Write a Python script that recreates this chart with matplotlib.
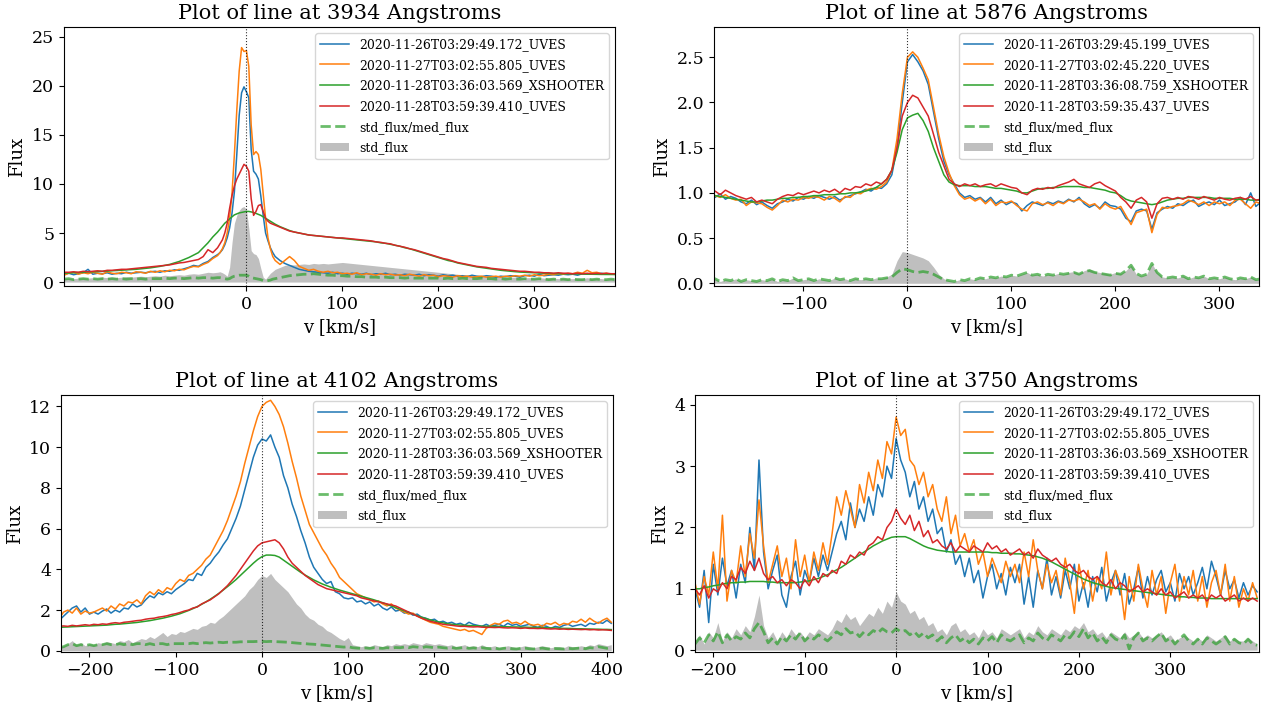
import numpy as np
import matplotlib
matplotlib.use("Agg")
import matplotlib.pyplot as plt

plt.rcParams['font.family'] = 'DejaVu Serif'

# ---------------- common labels ----------------
labels_a = ['2020-11-26T03:29:49.172_UVES', '2020-11-27T03:02:55.805_UVES',
            '2020-11-28T03:36:03.569_XSHOOTER', '2020-11-28T03:59:39.410_UVES']
labels_b = ['2020-11-26T03:29:45.199_UVES', '2020-11-27T03:02:45.220_UVES',
            '2020-11-28T03:36:08.759_XSHOOTER', '2020-11-28T03:59:35.437_UVES']

# ---------------- 3934 A ----------------
v_3934 = np.r_[np.arange(-190, -30, 5), np.arange(-30, 30, 2.5), np.arange(30, 390, 5)]
blue_3934 = [0.8, 0.9, 0.75, 0.85, 0.95, 1.3, 0.8, 0.9, 0.85, 0.95,
             0.8, 0.9, 0.85, 1.0, 0.9, 0.95, 1.0, 0.95, 1.05, 1.1,
             1.0, 1.15, 1.1, 1.25, 1.2, 1.35, 1.5, 1.7, 1.6, 1.9,
             2.1, 2.5,
             2.8, 3.0, 3.3, 3.8, 4.5, 5.5, 7.0, 9.2, 13.0, 17.0, 19.3, 19.9, 19.4, 18.8, 13.5, 11.3,
             11.0, 10.5, 8.8, 6.8, 5.0, 4.2, 3.5, 3.0,
             2.6, 2.2, 1.9, 1.7, 1.5, 1.3, 1.2, 1.1, 1.05, 1.0,
             0.95, 0.9, 1.0, 0.85, 0.9, 0.8, 0.9, 0.85, 0.8, 0.9,
             0.75, 0.85, 0.8, 0.9, 0.75, 0.8, 0.7, 0.8, 0.75, 0.7,
             0.8, 0.65, 0.75, 0.7, 0.6, 0.75, 0.65, 0.7, 0.6, 0.65,
             0.55, 0.7, 0.6, 0.55, 0.65, 0.6, 0.5, 0.6, 0.55, 0.65,
             0.6, 0.5, 0.65, 0.7, 0.6, 0.8, 0.65, 0.7, 0.75, 0.7,
             0.8, 0.75, 0.8, 0.7, 0.85, 0.8, 0.9, 0.85, 0.9, 0.8,
             0.85, 0.8]
orange_3934 = [0.7, 0.9, 1.0, 0.8, 0.95, 0.85, 1.0, 0.9, 0.8, 1.05,
               0.9, 0.85, 1.0, 0.95, 0.85, 1.05, 1.0, 0.9, 1.1, 1.0,
               1.15, 1.05, 1.2, 1.15, 1.3, 1.25, 1.45, 1.6, 1.55, 1.8,
               2.0, 2.4,
               2.7, 3.0, 3.4, 4.0, 5.0, 6.5, 9.0, 13.0, 17.5, 21.5, 23.9, 23.5, 23.6, 22.0, 16.0, 13.0,
               13.3, 13.0, 11.5, 9.0, 6.5, 4.5, 3.4, 2.6,
               2.2, 1.8, 2.2, 2.6, 2.2, 1.6, 1.4, 1.2, 1.3, 1.1,
               1.0, 1.1, 0.95, 1.0, 0.85, 0.9, 0.8, 0.95, 0.75, 0.85,
               0.8, 0.7, 0.85, 0.75, 0.8, 0.7, 0.75, 0.65, 0.8, 0.7,
               0.6, 0.75, 0.65, 0.7, 0.55, 0.65, 0.6, 0.5, 0.65, 0.55,
               0.6, 0.5, 0.55, 0.6, 0.5, 0.55, 0.6, 0.5, 0.6, 0.55,
               0.65, 0.6, 0.7, 0.6, 0.75, 0.65, 0.7, 0.8, 0.75, 0.85,
               0.8, 0.9, 0.85, 1.0, 0.9, 1.2, 0.95, 1.0, 0.85, 0.9,
               0.8, 0.85]
green_3934 = [0.9, 0.92, 0.95, 0.97, 1.0, 1.02, 1.05, 1.07, 1.1, 1.12,
              1.15, 1.17, 1.2, 1.23, 1.26, 1.3, 1.35, 1.4, 1.45, 1.52,
              1.6, 1.7, 1.8, 1.95, 2.1, 2.3, 2.5, 2.75, 3.0, 3.5,
              4.0, 4.6,
              5.1, 5.4, 5.7, 6.0, 6.2, 6.45, 6.65, 6.85, 6.95, 7.05, 7.1, 7.15, 7.2, 7.2, 7.15, 7.1,
              7.0, 6.9, 6.8, 6.65, 6.5, 6.35, 6.2, 6.05,
              5.9, 5.65, 5.45, 5.25, 5.1, 5.0, 4.9, 4.8, 4.75, 4.7,
              4.65, 4.6, 4.55, 4.5, 4.45, 4.4, 4.35, 4.3, 4.25, 4.2,
              4.15, 4.1, 4.0, 3.95, 3.85, 3.75, 3.65, 3.5, 3.4, 3.25,
              3.1, 2.95, 2.8, 2.65, 2.5, 2.35, 2.2, 2.1, 1.95, 1.85,
              1.75, 1.65, 1.55, 1.48, 1.4, 1.33, 1.27, 1.2, 1.15, 1.1,
              1.06, 1.02, 1.0, 0.97, 0.95, 0.92, 0.9, 0.88, 0.87, 0.86,
              0.85, 0.84, 0.83, 0.82, 0.81, 0.8, 0.8, 0.79, 0.78, 0.78,
              0.77, 0.77]
red_3934 = [1.0, 1.0, 1.05, 1.0, 1.1, 1.05, 1.1, 1.15, 1.1, 1.2,
            1.2, 1.25, 1.3, 1.3, 1.35, 1.4, 1.45, 1.5, 1.55, 1.6,
            1.65, 1.7, 1.75, 1.85, 1.95, 2.0, 2.1, 2.2, 2.3, 2.6,
            3.3, 3.0,
            3.5, 3.9, 4.3, 5.0, 6.0, 7.5, 8.8, 9.8, 10.5, 11.0, 11.5, 12.0, 11.8, 11.3, 8.5, 6.8,
            7.2, 7.8, 7.9, 7.2, 6.5, 6.2, 6.0, 5.9,
            5.8, 5.6, 5.4, 5.2, 5.1, 5.0, 4.9, 4.8, 4.75, 4.7,
            4.65, 4.6, 4.55, 4.5, 4.5, 4.45, 4.4, 4.35, 4.3, 4.25,
            4.2, 4.1, 4.05, 3.95, 3.9, 3.75, 3.65, 3.55, 3.4, 3.3,
            3.15, 3.0, 2.85, 2.7, 2.55, 2.4, 2.3, 2.15, 2.0, 1.9,
            1.8, 1.7, 1.6, 1.55, 1.5, 1.4, 1.35, 1.3, 1.25, 1.2,
            1.15, 1.1, 1.1, 1.05, 1.0, 1.0, 0.95, 0.95, 0.9, 0.95,
            0.9, 0.9, 0.85, 0.9, 0.85, 0.9, 0.85, 0.9, 0.85, 0.9,
            0.85, 0.85]
std_3934 = [0.35, 0.4, 0.35, 0.4, 0.45, 0.4, 0.45, 0.4, 0.5, 0.45,
            0.5, 0.45, 0.5, 0.55, 0.5, 0.55, 0.6, 0.55, 0.6, 0.65,
            0.6, 0.7, 0.65, 0.7, 0.75, 0.7, 0.8, 0.85, 0.8, 0.9,
            1.0, 0.95,
            1.0, 1.05, 0.95, 0.8, 0.6, 1.5, 4.0, 6.0, 6.8, 7.3, 7.6, 7.7, 7.4, 5.5, 3.2, 2.9,
            2.8, 2.4, 1.4, 0.5, 0.3, 0.6, 0.9, 1.1,
            1.3, 1.5, 1.7, 1.8, 1.75, 1.8, 1.85, 1.8, 1.9, 1.85,
            1.9, 1.85, 1.9, 1.95, 2.0, 1.95, 1.9, 1.85, 1.8, 1.75,
            1.7, 1.65, 1.6, 1.55, 1.5, 1.45, 1.4, 1.35, 1.3, 1.25,
            1.2, 1.15, 1.1, 1.05, 1.0, 0.95, 0.9, 0.85, 0.8, 0.75,
            0.75, 0.7, 0.65, 0.65, 0.6, 0.6, 0.55, 0.55, 0.5, 0.5,
            0.5, 0.45, 0.45, 0.45, 0.4, 0.45, 0.4, 0.4, 0.4, 0.35,
            0.4, 0.35, 0.35, 0.4, 0.35, 0.45, 0.35, 0.4, 0.35, 0.3,
            0.35, 0.3]
ratio_3934 = [0.3, 0.35, 0.25, 0.3, 0.35, 0.3, 0.35, 0.3, 0.35, 0.3,
              0.35, 0.3, 0.35, 0.3, 0.35, 0.3, 0.35, 0.3, 0.35, 0.35,
              0.35, 0.4, 0.35, 0.4, 0.4, 0.35, 0.4, 0.45, 0.4, 0.45,
              0.45, 0.4,
              0.45, 0.45, 0.4, 0.35, 0.3, 0.35, 0.5, 0.6, 0.65, 0.7, 0.7, 0.7, 0.7, 0.6, 0.45, 0.4,
              0.35, 0.3, 0.25, 0.15, 0.1, 0.15, 0.2, 0.3,
              0.35, 0.45, 0.55, 0.65, 0.7, 0.75, 0.8, 0.8, 0.85, 0.8,
              0.75, 0.7, 0.7, 0.65, 0.65, 0.6, 0.6, 0.55, 0.55, 0.5,
              0.5, 0.5, 0.45, 0.5, 0.45, 0.45, 0.45, 0.4, 0.45, 0.4,
              0.4, 0.4, 0.4, 0.4, 0.4, 0.35, 0.4, 0.35, 0.35, 0.4,
              0.35, 0.35, 0.35, 0.4, 0.35, 0.35, 0.3, 0.35, 0.3, 0.35,
              0.3, 0.3, 0.35, 0.3, 0.3, 0.35, 0.3, 0.25, 0.3, 0.25,
              0.3, 0.25, 0.3, 0.25, 0.25, 0.3, 0.25, 0.3, 0.25, 0.25,
              0.3, 0.25]

# ---------------- 5876 A ----------------
v_5876 = np.arange(-190, 345, 5)
blue_5876 = [0.97, 0.95, 0.99, 0.93, 0.96, 0.94, 0.9, 0.88, 0.92, 0.87,
             0.9, 0.86, 0.83, 0.88, 0.9, 0.93, 0.91, 0.95, 0.93, 0.96,
             0.94, 0.97, 0.95, 0.93, 0.96, 0.92, 0.95, 0.97, 0.99, 1.01,
             1.04, 1.02, 1.06, 1.05, 1.1, 1.2, 1.5, 2.0, 2.45, 2.53,
             2.45, 2.35, 2.2, 1.9, 1.6, 1.35, 1.2, 1.1, 1.0, 0.95,
             0.97, 0.93, 0.95, 0.9, 0.95, 0.88, 0.92, 0.87, 0.9, 0.88,
             0.8, 0.86, 0.9, 0.88, 0.86, 0.9, 0.88, 0.91, 0.89, 0.93,
             0.9, 0.95, 0.88, 0.84, 0.87, 0.83, 0.9, 0.86, 0.85, 0.82,
             0.72, 0.68, 0.8, 0.82, 0.8, 0.6, 0.78, 0.82, 0.85, 0.83,
             0.88, 0.86, 0.9, 0.92, 0.85, 0.88, 0.9, 0.87, 0.92, 0.86,
             0.88, 0.9, 0.95, 0.87, 1.0, 0.85, 0.9]
orange_5876 = [0.93, 0.97, 0.95, 0.98, 0.94, 0.92, 0.93, 0.86, 0.9, 0.89,
               0.88, 0.84, 0.81, 0.86, 0.92, 0.9, 0.93, 0.92, 0.95, 0.94,
               0.96, 0.95, 0.92, 0.96, 0.94, 0.9, 0.96, 0.95, 1.0, 0.99,
               1.03, 1.05, 1.04, 1.07, 1.12, 1.25, 1.6, 2.1, 2.5, 2.56,
               2.5, 2.38, 2.25, 1.95, 1.65, 1.4, 1.22, 1.08, 0.98, 0.93,
               0.95, 0.91, 0.94, 0.88, 0.93, 0.86, 0.9, 0.89, 0.91, 0.86,
               0.82, 0.8, 0.88, 0.9, 0.87, 0.89, 0.86, 0.9, 0.88, 0.92,
               0.91, 0.93, 0.9, 0.86, 0.88, 0.82, 0.88, 0.84, 0.82, 0.85,
               0.75, 0.65, 0.78, 0.8, 0.82, 0.56, 0.76, 0.84, 0.83, 0.85,
               0.86, 0.88, 0.92, 0.9, 0.87, 0.9, 0.86, 0.9, 0.88, 0.9,
               0.86, 0.92, 0.93, 0.88, 0.83, 0.9, 0.88]
green_5876 = [0.97, 0.97, 0.96, 0.95, 0.94, 0.93, 0.92, 0.91, 0.9, 0.9,
              0.91, 0.92, 0.92, 0.93, 0.94, 0.94, 0.95, 0.95, 0.96, 0.96,
              0.97, 0.97, 0.98, 0.98, 0.98, 0.99, 0.99, 1.0, 1.0, 1.01,
              1.02, 1.04, 1.06, 1.1, 1.15, 1.25, 1.45, 1.7, 1.83, 1.86,
              1.88, 1.8, 1.68, 1.5, 1.35, 1.2, 1.12, 1.09, 1.08, 1.08,
              1.08, 1.07, 1.07, 1.07, 1.06, 1.05, 1.05, 1.04, 1.03, 1.02,
              1.0, 1.0, 1.02, 1.04, 1.05, 1.05, 1.06, 1.06, 1.07, 1.07,
              1.07, 1.07, 1.06, 1.06, 1.05, 1.04, 1.03, 1.01, 1.0, 0.97,
              0.93, 0.91, 0.9, 0.89, 0.88, 0.87, 0.88, 0.9, 0.92, 0.93,
              0.94, 0.94, 0.95, 0.95, 0.95, 0.95, 0.95, 0.94, 0.94, 0.94,
              0.94, 0.93, 0.93, 0.93, 0.92, 0.92, 0.92]
red_5876 = [1.0, 1.02, 0.98, 1.03, 1.0, 0.97, 0.95, 0.93, 0.95, 0.9,
            0.92, 0.9, 0.88, 0.93, 0.96, 0.98, 0.97, 1.0, 0.98, 1.0,
            1.02, 1.0, 1.03, 1.01, 1.04, 1.0, 1.05, 1.03, 1.07, 1.06,
            1.1, 1.08, 1.12, 1.1, 1.15, 1.25, 1.5, 1.85, 2.0, 2.08,
            2.05, 1.95, 1.85, 1.65, 1.45, 1.3, 1.15, 1.1, 1.07, 1.1,
            1.08, 1.1, 1.07, 1.09, 1.1, 1.07, 1.1, 1.08, 1.06, 1.05,
            1.0, 0.98, 1.03, 1.05, 1.04, 1.06, 1.05, 1.08, 1.1, 1.12,
            1.15, 1.1, 1.08, 1.06, 1.1, 1.12, 1.08, 1.05, 1.02, 0.95,
            0.9, 0.83, 0.92, 0.95, 0.9, 0.72, 0.88, 0.94, 0.95, 0.93,
            0.95, 0.93, 0.96, 0.95, 0.93, 0.96, 0.94, 0.92, 0.95, 0.93,
            0.92, 0.94, 0.95, 0.93, 0.96, 0.92, 0.93]
std_5876 = [0.03, 0.05, 0.02, 0.04, 0.03, 0.05, 0.02, 0.04, 0.03, 0.02,
            0.04, 0.03, 0.05, 0.02, 0.04, 0.03, 0.06, 0.03, 0.04, 0.05,
            0.03, 0.05, 0.04, 0.03, 0.06, 0.04, 0.05, 0.03, 0.05, 0.04,
            0.05, 0.04, 0.06, 0.05, 0.07, 0.1, 0.25, 0.35, 0.34, 0.32,
            0.3, 0.28, 0.25, 0.18, 0.1, 0.05, 0.03, 0.02, 0.04, 0.03,
            0.05, 0.04, 0.06, 0.05, 0.07, 0.06, 0.08, 0.07, 0.09, 0.08,
            0.1, 0.12, 0.09, 0.1, 0.08, 0.1, 0.09, 0.11, 0.1, 0.12,
            0.13, 0.11, 0.14, 0.16, 0.13, 0.12, 0.11, 0.1, 0.12, 0.11,
            0.14, 0.2, 0.1, 0.08, 0.1, 0.22, 0.12, 0.07, 0.06, 0.07,
            0.06, 0.08, 0.05, 0.07, 0.06, 0.08, 0.05, 0.06, 0.05, 0.07,
            0.05, 0.04, 0.06, 0.05, 0.07, 0.04, 0.05]
ratio_5876 = [0.03, 0.05, 0.02, 0.04, 0.03, 0.05, 0.02, 0.04, 0.03, 0.02,
              0.04, 0.03, 0.05, 0.02, 0.04, 0.03, 0.06, 0.03, 0.04, 0.05,
              0.03, 0.05, 0.04, 0.03, 0.06, 0.04, 0.05, 0.03, 0.05, 0.04,
              0.05, 0.04, 0.05, 0.05, 0.06, 0.07, 0.12, 0.16, 0.15, 0.13,
              0.12, 0.13, 0.12, 0.1, 0.07, 0.04, 0.03, 0.02, 0.04, 0.03,
              0.05, 0.04, 0.06, 0.05, 0.07, 0.06, 0.08, 0.07, 0.09, 0.08,
              0.1, 0.12, 0.09, 0.1, 0.08, 0.1, 0.09, 0.11, 0.1, 0.11,
              0.12, 0.1, 0.13, 0.14, 0.12, 0.11, 0.1, 0.09, 0.11, 0.1,
              0.14, 0.2, 0.11, 0.08, 0.1, 0.22, 0.12, 0.07, 0.06, 0.07,
              0.06, 0.08, 0.05, 0.07, 0.06, 0.08, 0.05, 0.06, 0.05, 0.07,
              0.05, 0.04, 0.06, 0.05, 0.07, 0.04, 0.05]

# ---------------- 4102 A ----------------
v_4102 = np.arange(-235, 410, 5)
blue_4102 = [1.5, 1.7, 1.9, 2.1, 2.2, 1.9, 2.1, 1.8, 1.9, 1.8,
             1.95, 2.05, 1.85, 2.0, 1.9, 2.1, 2.05, 2.3, 2.15, 2.25,
             2.5, 2.7, 2.6, 2.85, 2.75, 2.9, 2.8, 3.0, 3.15, 3.3,
             3.5, 3.45, 3.8, 3.7, 4.1, 4.3, 4.6, 4.85, 5.2, 5.5,
             6.0, 6.5, 7.1, 7.9, 8.7, 9.5, 10.1, 10.4, 10.3, 10.6,
             10.0, 9.5, 8.6, 8.0, 7.2, 6.6, 5.9, 5.3, 4.6, 4.1,
             3.8, 3.5, 3.3, 3.4, 2.9, 2.8, 2.6, 2.55, 2.6, 2.4,
             2.45, 2.3, 2.4, 2.2, 2.3, 2.1, 2.0, 2.15, 1.95, 2.0,
             1.85, 1.9, 1.75, 1.8, 1.65, 1.6, 1.5, 1.55, 1.4, 1.45,
             1.35, 1.4, 1.3, 1.35, 1.25, 1.4, 1.3, 1.25, 1.2, 1.3,
             1.2, 1.25, 1.3, 1.2, 1.35, 1.25, 1.3, 1.2, 1.25, 1.3,
             1.2, 1.15, 1.25, 1.2, 1.1, 1.2, 1.15, 1.25, 1.3, 1.2,
             1.25, 1.3, 1.2, 1.35, 1.3, 1.4, 1.35, 1.5, 1.35]
orange_4102 = [1.6, 1.9, 2.0, 1.85, 2.1, 1.8, 1.95, 1.85, 1.9, 2.0,
               2.1, 1.95, 2.2, 2.05, 2.3, 2.2, 2.4, 2.35, 2.5, 2.3,
               2.7, 2.9, 2.75, 3.0, 2.85, 3.1, 3.0, 3.3, 3.5, 3.4,
               3.7, 3.8, 4.0, 4.2, 4.5, 4.7, 5.1, 5.5, 5.9, 6.4,
               7.0, 7.6, 8.3, 9.2, 10.0, 10.8, 11.5, 12.0, 12.2, 12.3,
               12.0, 11.6, 11.0, 10.2, 9.3, 8.5, 7.6, 6.9, 6.2, 5.8,
               5.4, 5.0, 4.7, 4.3, 4.0, 3.6, 3.4, 3.2, 3.0, 2.8,
               2.7, 2.6, 2.5, 2.4, 2.45, 2.3, 2.2, 2.3, 2.1, 2.0,
               1.9, 1.8, 1.85, 1.7, 1.6, 1.5, 1.4, 1.35, 1.3, 1.2,
               1.15, 1.1, 1.05, 1.0, 1.05, 0.95, 1.0, 0.9, 0.8, 1.1,
               1.25, 1.35, 1.3, 1.45, 1.5, 1.35, 1.4, 1.3, 1.45, 1.3,
               1.25, 1.3, 1.2, 1.35, 1.3, 1.4, 1.25, 1.35, 1.3, 1.45,
               1.4, 1.55, 1.4, 1.6, 1.45, 1.35, 1.5, 1.6, 1.4]
green_4102 = [1.15, 1.16, 1.17, 1.18, 1.19, 1.2, 1.21, 1.22, 1.23, 1.24,
              1.25, 1.26, 1.28, 1.3, 1.31, 1.33, 1.35, 1.37, 1.39, 1.42,
              1.45, 1.48, 1.52, 1.56, 1.6, 1.65, 1.7, 1.76, 1.82, 1.9,
              1.98, 2.07, 2.17, 2.28, 2.4, 2.53, 2.67, 2.82, 2.98, 3.15,
              3.32, 3.5, 3.7, 3.9, 4.1, 4.3, 4.48, 4.62, 4.7, 4.7,
              4.68, 4.6, 4.45, 4.3, 4.15, 4.0, 3.85, 3.72, 3.6, 3.48,
              3.38, 3.28, 3.2, 3.12, 3.05, 2.98, 2.92, 2.86, 2.8, 2.74,
              2.68, 2.62, 2.56, 2.5, 2.43, 2.36, 2.28, 2.2, 2.12, 2.04,
              1.96, 1.88, 1.8, 1.72, 1.65, 1.58, 1.52, 1.46, 1.41, 1.37,
              1.33, 1.3, 1.28, 1.26, 1.25, 1.24, 1.23, 1.22, 1.21, 1.2,
              1.2, 1.19, 1.19, 1.18, 1.18, 1.17, 1.17, 1.16, 1.16, 1.15,
              1.15, 1.14, 1.14, 1.13, 1.12, 1.12, 1.11, 1.1, 1.1, 1.09,
              1.08, 1.08, 1.07, 1.07, 1.06, 1.06, 1.05, 1.05, 1.04]
red_4102 = [1.2, 1.22, 1.2, 1.25, 1.22, 1.25, 1.28, 1.25, 1.3, 1.28,
            1.32, 1.3, 1.35, 1.38, 1.35, 1.4, 1.42, 1.45, 1.48, 1.5,
            1.55, 1.58, 1.6, 1.65, 1.68, 1.72, 1.78, 1.82, 1.88, 1.95,
            2.0, 2.1, 2.15, 2.3, 2.4, 2.5, 2.65, 2.8, 3.0, 3.2,
            3.45, 3.7, 4.0, 4.3, 4.6, 4.9, 5.15, 5.3, 5.35, 5.4,
            5.45, 5.3, 5.0, 4.6, 4.3, 4.1, 3.9, 3.7, 3.55, 3.4,
            3.25, 3.15, 3.05, 3.0, 2.95, 2.9, 2.85, 2.8, 2.75, 2.7,
            2.6, 2.55, 2.5, 2.45, 2.4, 2.35, 2.3, 2.25, 2.2, 2.1,
            2.0, 1.9, 1.8, 1.7, 1.6, 1.52, 1.45, 1.4, 1.35, 1.3,
            1.27, 1.25, 1.22, 1.2, 1.2, 1.18, 1.17, 1.18, 1.16, 1.15,
            1.15, 1.14, 1.15, 1.13, 1.12, 1.13, 1.12, 1.1, 1.12, 1.1,
            1.1, 1.09, 1.1, 1.08, 1.07, 1.08, 1.06, 1.07, 1.05, 1.06,
            1.05, 1.04, 1.05, 1.03, 1.04, 1.02, 1.03, 1.02, 1.0]
std_4102 = [0.15, 0.25, 0.35, 0.5, 0.3, 0.4, 0.25, 0.35, 0.3, 0.4,
            0.35, 0.45, 0.4, 0.35, 0.5, 0.45, 0.55, 0.4, 0.5, 0.6,
            0.55, 0.7, 0.6, 0.75, 0.9, 0.7, 0.85, 0.8, 0.95, 0.9,
            1.0, 1.1, 1.05, 1.2, 1.25, 1.4, 1.35, 1.55, 1.7, 1.9,
            2.1, 2.3, 2.5, 2.7, 3.0, 3.2, 3.5, 3.7, 3.6, 3.8,
            3.5, 3.3, 3.1, 2.9, 2.6, 2.3, 2.1, 1.8, 1.6, 1.5,
            1.3, 1.2, 1.0, 0.9, 0.75, 0.6, 0.5, 0.65, 0.3, 0.25,
            0.2, 0.25, 0.2, 0.3, 0.25, 0.2, 0.3, 0.25, 0.35, 0.3,
            0.35, 0.3, 0.4, 0.35, 0.3, 0.4, 0.35, 0.3, 0.35, 0.3,
            0.25, 0.3, 0.2, 0.25, 0.3, 0.2, 0.25, 0.2, 0.3, 0.2,
            0.2, 0.25, 0.15, 0.2, 0.25, 0.2, 0.15, 0.2, 0.25, 0.2,
            0.15, 0.2, 0.25, 0.2, 0.15, 0.2, 0.2, 0.15, 0.25, 0.2,
            0.2, 0.25, 0.2, 0.3, 0.25, 0.35, 0.3, 0.25, 0.3]
ratio_4102 = [0.15, 0.2, 0.3, 0.35, 0.25, 0.3, 0.25, 0.3, 0.25, 0.3,
              0.3, 0.35, 0.3, 0.3, 0.35, 0.3, 0.35, 0.3, 0.35, 0.35,
              0.3, 0.35, 0.3, 0.35, 0.35, 0.3, 0.35, 0.35, 0.35, 0.35,
              0.35, 0.38, 0.35, 0.38, 0.4, 0.38, 0.4, 0.42, 0.4, 0.42,
              0.42, 0.42, 0.44, 0.44, 0.45, 0.45, 0.46, 0.46, 0.45, 0.46,
              0.45, 0.44, 0.43, 0.42, 0.4, 0.38, 0.36, 0.35, 0.33, 0.32,
              0.3, 0.28, 0.26, 0.24, 0.22, 0.2, 0.18, 0.2, 0.15, 0.13,
              0.12, 0.14, 0.12, 0.15, 0.13, 0.12, 0.15, 0.13, 0.16, 0.15,
              0.18, 0.15, 0.2, 0.18, 0.15, 0.2, 0.18, 0.15, 0.18, 0.15,
              0.13, 0.16, 0.12, 0.14, 0.16, 0.12, 0.14, 0.12, 0.15, 0.12,
              0.1, 0.13, 0.09, 0.12, 0.14, 0.1, 0.09, 0.12, 0.13, 0.1,
              0.09, 0.11, 0.13, 0.1, 0.08, 0.11, 0.1, 0.09, 0.12, 0.1,
              0.12, 0.14, 0.1, 0.15, 0.13, 0.2, 0.16, 0.12, 0.15]

# ---------------- 3750 A ----------------
v_3750 = np.arange(-220, 400, 5)
blue_3750 = [1.0, 0.7, 1.3, 0.45, 1.4, 0.9, 1.5, 1.05, 1.3, 0.85,
             1.4, 1.1, 2.0, 1.3, 3.1, 1.6, 1.0, 1.3, 1.55, 0.9,
             0.7, 1.2, 1.45, 0.9, 1.3, 1.1, 1.5, 1.2, 1.55, 1.3,
             1.6, 1.9, 2.1, 1.8, 2.4, 2.0, 2.3, 2.1, 2.5, 2.2,
             2.7, 2.5, 3.0, 2.8, 3.45, 3.1, 2.9, 2.5, 2.75, 2.3,
             2.5, 2.1, 2.3, 1.9, 2.0, 1.6, 1.8, 1.4, 1.55, 1.2,
             1.5, 1.1, 1.3, 0.85, 1.2, 1.4, 1.0, 1.25, 0.9, 1.35,
             1.1, 1.4, 0.75, 1.2, 0.7, 1.3, 1.0, 1.5, 0.9, 1.2,
             0.85, 1.3, 1.0, 1.4, 0.8, 1.1, 0.7, 1.2, 0.95, 1.35,
             0.8, 1.1, 1.3, 0.9, 1.25, 0.75, 1.0, 1.35, 0.85, 1.2,
             0.9, 1.15, 1.3, 0.95, 1.1, 0.8, 1.25, 1.0, 1.2, 0.9,
             1.1, 1.35, 1.0, 1.45, 1.2, 0.9, 1.3, 1.0, 1.15, 0.85,
             1.1, 0.9, 1.05, 0.95]
orange_3750 = [1.1, 0.75, 1.2, 0.9, 1.6, 1.0, 2.2, 0.8, 1.3, 1.1,
               1.7, 1.2, 1.9, 1.5, 2.45, 1.7, 1.1, 1.4, 1.7, 1.2,
               1.5, 1.0, 1.8, 1.2, 1.55, 1.1, 1.6, 1.3, 1.75, 1.4,
               1.9, 2.5, 2.2, 2.6, 2.3, 2.0, 2.7, 2.4, 2.9, 2.6,
               3.1, 2.8, 3.4, 3.2, 3.8, 3.5, 3.6, 3.1, 3.0, 2.7,
               2.9, 2.5, 2.7, 2.3, 2.1, 2.5, 1.9, 2.2, 1.7, 1.9,
               1.6, 1.8, 1.4, 1.6, 1.2, 1.5, 1.3, 1.1, 1.45, 1.2,
               1.4, 1.1, 1.6, 1.2, 1.8, 1.3, 1.0, 1.4, 1.1, 1.3,
               0.9, 1.5, 1.1, 0.6, 1.4, 1.0, 1.3, 0.8, 1.2, 1.0,
               1.6, 0.9, 1.3, 1.1, 0.5, 1.2, 0.8, 1.4, 1.0, 0.7,
               1.3, 0.9, 1.2, 0.6, 1.1, 1.4, 0.8, 1.2, 0.9, 1.3,
               0.8, 1.2, 0.7, 1.1, 1.3, 0.9, 1.4, 0.8, 1.2, 0.7,
               1.0, 0.8, 1.1, 0.85]
green_3750 = [1.0, 1.0, 1.02, 1.03, 1.05, 1.06, 1.08, 1.09, 1.1, 1.1,
              1.11, 1.11, 1.12, 1.12, 1.12, 1.12, 1.11, 1.11, 1.1, 1.1,
              1.1, 1.1, 1.1, 1.11, 1.12, 1.13, 1.15, 1.17, 1.2, 1.23,
              1.27, 1.31, 1.35, 1.4, 1.45, 1.5, 1.55, 1.6, 1.65, 1.7,
              1.74, 1.78, 1.81, 1.84, 1.85, 1.85, 1.85, 1.82, 1.78, 1.74,
              1.7, 1.67, 1.65, 1.63, 1.62, 1.61, 1.6, 1.6, 1.6, 1.6,
              1.6, 1.6, 1.6, 1.6, 1.6, 1.59, 1.59, 1.58, 1.58, 1.58,
              1.57, 1.57, 1.56, 1.55, 1.54, 1.52, 1.5, 1.47, 1.44, 1.4,
              1.36, 1.32, 1.28, 1.24, 1.2, 1.16, 1.13, 1.1, 1.08, 1.06,
              1.04, 1.02, 1.01, 1.0, 0.99, 0.98, 0.97, 0.96, 0.95, 0.94,
              0.93, 0.92, 0.91, 0.9, 0.89, 0.88, 0.87, 0.87, 0.86, 0.86,
              0.85, 0.85, 0.85, 0.84, 0.84, 0.84, 0.84, 0.84, 0.84, 0.84,
              0.84, 0.84, 0.84, 0.84]
red_3750 = [1.0, 0.9, 1.05, 0.85, 1.0, 0.95, 1.1, 1.0, 1.2, 1.15,
            1.35, 1.25, 1.45, 1.3, 1.5, 1.25, 1.15, 1.2, 1.1, 1.15,
            1.05, 1.15, 1.1, 1.0, 1.15, 1.05, 1.2, 1.1, 1.25, 1.2,
            1.3, 1.25, 1.45, 1.4, 1.55, 1.5, 1.6, 1.55, 1.7, 1.75,
            1.85, 1.8, 2.0, 2.1, 2.3, 2.15, 2.05, 2.2, 1.95, 2.1,
            1.85, 1.95, 1.75, 1.8, 1.7, 1.65, 1.75, 1.6, 1.7, 1.65,
            1.6, 1.7, 1.65, 1.6, 1.75, 1.65, 1.7, 1.6, 1.65, 1.55,
            1.6, 1.65, 1.55, 1.6, 1.5, 1.65, 1.55, 1.5, 1.45, 1.5,
            1.4, 1.35, 1.4, 1.3, 1.25, 1.3, 1.2, 1.15, 1.2, 1.1,
            1.05, 1.15, 1.0, 1.1, 1.05, 0.95, 1.0, 1.05, 0.95, 1.0,
            0.95, 0.9, 1.0, 0.9, 0.95, 0.85, 0.9, 0.95, 0.85, 0.9,
            0.85, 0.9, 0.8, 0.9, 0.85, 0.9, 0.8, 0.85, 0.9, 0.8,
            0.85, 0.8, 0.85, 0.8]
std_3750 = [0.15, 0.25, 0.1, 0.3, 0.2, 0.45, 0.15, 0.3, 0.2, 0.35,
            0.25, 0.4, 0.3, 0.55, 0.9, 0.4, 0.2, 0.3, 0.15, 0.3,
            0.2, 0.35, 0.25, 0.3, 0.2, 0.3, 0.25, 0.35, 0.3, 0.25,
            0.35, 0.5, 0.45, 0.6, 0.5, 0.55, 0.4, 0.5, 0.6, 0.55,
            0.7, 0.6, 0.8, 0.7, 0.95, 0.8, 0.75, 0.6, 0.65, 0.5,
            0.55, 0.4, 0.45, 0.3, 0.35, 0.25, 0.4, 0.45, 0.3, 0.35,
            0.25, 0.3, 0.2, 0.35, 0.25, 0.3, 0.2, 0.35, 0.3, 0.25,
            0.3, 0.35, 0.2, 0.3, 0.25, 0.4, 0.3, 0.25, 0.35, 0.3,
            0.25, 0.35, 0.3, 0.4, 0.35, 0.45, 0.3, 0.35, 0.25, 0.3,
            0.2, 0.3, 0.25, 0.2, 0.3, 0.2, 0.25, 0.3, 0.2, 0.25,
            0.2, 0.25, 0.3, 0.2, 0.25, 0.15, 0.2, 0.25, 0.2, 0.15,
            0.2, 0.15, 0.25, 0.2, 0.15, 0.2, 0.25, 0.15, 0.2, 0.15,
            0.15, 0.2, 0.15, 0.1]
ratio_3750 = [0.1, 0.2, 0.12, 0.25, 0.15, 0.3, 0.12, 0.25, 0.15, 0.22,
              0.18, 0.28, 0.2, 0.35, 0.45, 0.3, 0.12, 0.2, 0.1, 0.22,
              0.15, 0.25, 0.18, 0.28, 0.15, 0.22, 0.18, 0.25, 0.2, 0.15,
              0.22, 0.3, 0.25, 0.35, 0.28, 0.3, 0.22, 0.3, 0.25, 0.32,
              0.28, 0.35, 0.3, 0.28, 0.35, 0.3, 0.32, 0.25, 0.3, 0.22,
              0.28, 0.2, 0.25, 0.15, 0.22, 0.12, 0.2, 0.25, 0.15, 0.2,
              0.12, 0.18, 0.1, 0.2, 0.15, 0.22, 0.12, 0.25, 0.18, 0.15,
              0.2, 0.25, 0.12, 0.2, 0.15, 0.28, 0.2, 0.15, 0.25, 0.2,
              0.15, 0.25, 0.2, 0.3, 0.22, 0.35, 0.2, 0.28, 0.15, 0.22,
              0.12, 0.25, 0.18, 0.15, 0.25, 0.02, 0.2, 0.28, 0.15, 0.2,
              0.15, 0.22, 0.28, 0.15, 0.2, 0.1, 0.18, 0.25, 0.15, 0.1,
              0.18, 0.1, 0.2, 0.15, 0.1, 0.15, 0.22, 0.1, 0.18, 0.12,
              0.1, 0.18, 0.1, 0.08]

panels = [
    dict(line=3934, v=v_3934, series=[blue_3934, orange_3934, green_3934, red_3934],
         std=std_3934, ratio=ratio_3934, labels=labels_a, xlim=(-190, 384), ylim=(-0.4, 26.0),
         rect=(64, 27, 615, 286)),
    dict(line=5876, v=v_5876, series=[blue_5876, orange_5876, green_5876, red_5876],
         std=std_5876, ratio=ratio_5876, labels=labels_b, xlim=(-186, 338), ylim=(-0.03, 2.835),
         rect=(714, 27, 1259, 286)),
    dict(line=4102, v=v_4102, series=[blue_4102, orange_4102, green_4102, red_4102],
         std=std_4102, ratio=ratio_4102, labels=labels_a, xlim=(-233, 407), ylim=(-0.06, 12.56),
         rect=(61, 395, 613, 652)),
    dict(line=3750, v=v_3750, series=[blue_3750, orange_3750, green_3750, red_3750],
         std=std_3750, ratio=ratio_3750, labels=labels_a, xlim=(-220, 397), ylim=(-0.03, 4.16),
         rect=(695, 395, 1259, 652)),
]

W, H = 1269, 705
fig = plt.figure(figsize=(W / 100, H / 100), dpi=100)
colors = ['C0', 'C1', 'C2', 'C3']

for p in panels:
    l, t, r, b = p['rect']
    ax = fig.add_axes([l / W, 1 - b / H, (r - l) / W, (b - t) / H])
    v = p['v']
    for s, c, lab in zip(p['series'], colors, p['labels']):
        ax.plot(v, s, color=c, lw=1.1, label=lab)
    ax.plot(v, p['ratio'], color='C2', ls='--', lw=2, alpha=0.7, label='std_flux/med_flux')
    ax.fill_between(v, 0, p['std'], color='gray', alpha=0.5, lw=0, label='std_flux')
    ax.axvline(0, color='k', ls=':', lw=0.8, alpha=0.8)
    ax.set_xlim(*p['xlim'])
    ax.set_ylim(*p['ylim'])
    ax.set_title(f"Plot of line at {p['line']} Angstroms", fontsize=15)
    ax.set_xlabel('v [km/s]', fontsize=13)
    ax.set_ylabel('Flux', fontsize=13)
    ax.tick_params(labelsize=12.5)
    ax.legend(loc='upper right', fontsize=8.9, labelspacing=0.62, handlelength=2.3)

fig.savefig('out.png', dpi=100)
